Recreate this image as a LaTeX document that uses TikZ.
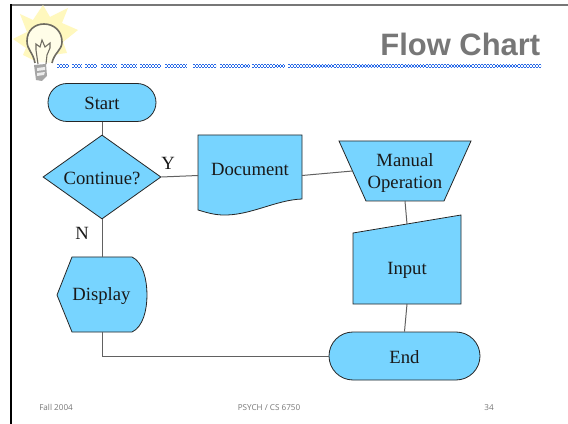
\documentclass[tikz,border=0pt]{standalone}
\usepackage{fontspec}
\setmainfont{Liberation Serif}
\newfontfamily\titlefont{Liberation Sans}
\newfontfamily\footfont{Open Sans}
\usetikzlibrary{shapes.geometric,shapes.misc}
\definecolor{boxblue}{HTML}{77D4FF}
\definecolor{slidegray}{HTML}{777777}
\definecolor{chain}{HTML}{2A6BE8}
\definecolor{burst}{HTML}{FFF8BE}
\definecolor{glass}{HTML}{FFFDE8}
\definecolor{bulbline}{HTML}{6F6C62}
\tikzset{
  x=0.75pt,y=-0.75pt,
  flowshape/.style={draw=black!85,line width=0.6pt,fill=boxblue,line join=miter},
  terminal/.style={flowshape,rounded rectangle,inner sep=0pt},
  decision/.style={flowshape,diamond,inner sep=0pt,aspect=1.405},
  label/.style={inner sep=0pt,font=\fontsize{14}{17}\selectfont,align=center,text=black!90},
  link/.style={draw=black!62,line width=0.75pt},
  footer/.style={inner sep=0pt,text=slidegray,font=\footfont\fontsize{6.1}{7}\selectfont},
  chainrow/.style={draw=chain,line width=1.15pt,dash pattern=on 1.15pt off 1.15pt},
}
\begin{document}
\begin{tikzpicture}
\useasboundingbox (0,0) rectangle (568,424);
\fill[white] (0,0) rectangle (568,424);
% slide frame
\draw[slidegray,line width=1.1pt] (11,5) -- (568,5);
\draw[black,line width=0.9pt] (11,4.5) -- (11,424);
% chain rule
\foreach \a/\b in {57/68,72/82,85/97,101/117,121/137,140/160,165/187,193/216,220/250,252/285,288/541}{
  \draw[chainrow] (\a,64.6) -- (\b,64.6);
  \draw[chainrow,dash phase=1.15pt] (\a,66.1) -- (\b,66.1);
  \draw[chainrow] (\a,67.6) -- (\b,67.6);
}
% light bulb
\fill[burst] (43,5) -- (50,17) -- (68,8) -- (62,23) -- (78,30) -- (63,42) -- (67,53) -- (52,55) -- (33,60) -- (23,55) -- (26,48) -- (13,39) -- (27,32) -- (20,14) -- (33,20) -- cycle;
\fill[glass] (35,62) .. controls (33,52) and (27,50) .. (27,41) .. controls (27,30) and (35,24) .. (44,24) .. controls (54,24) and (62,31) .. (62,42) .. controls (62,50) and (54,53) .. (52,63) -- cycle;
\draw[bulbline,line width=1.2pt] (35,63) .. controls (33,52) and (27,50) .. (27,41) .. controls (27,30) and (35,24) .. (44,24) .. controls (54,24) and (62,31) .. (62,42) .. controls (62,50) and (54,53) .. (52,63);
\draw[bulbline,line width=0.8pt] (38,64) -- (36,50) -- (36,44) -- (40,47) -- (42,40) -- (45,47) -- (50,43) -- (50,48) -- (47,55) -- (46,64);
\fill[gray!70] (34,65) -- (46,64) -- (47,76) -- (42,81) -- (36,80) -- cycle;
\fill[white!85!gray] (37,68) -- (45,67) -- (45,70) -- (37,71) -- cycle (37,73) -- (45,72) -- (44,75) -- (37,76) -- cycle;
% title and footer
\node[anchor=east,inner sep=0pt,text=slidegray,font=\titlefont\bfseries\fontsize{23.2}{26}\selectfont] (title) at (540.5,44) {Flow Chart};
\node[footer,anchor=base west] (footl) at (39,410.5) {Fall 2004};
\node[footer,anchor=base] (footc) at (269,410.5) {PSYCH / CS 6750};
\node[footer,anchor=base east] (footr) at (494,410.5) {34};
% flow shapes
\node[terminal,minimum width=81pt,minimum height=28.5pt] (start) at (102,102.5) {};
\node[label] (startt) at (102,103.5) {Start};
\node[decision,minimum width=88.5pt,minimum height=63pt] (cont) at (102,177) {};
\node[label] (contt) at (102,178) {Continue?};
\draw[flowshape] (198,135) -- (302,135) -- (302,199) .. controls (275,200) and (250,216) .. (222,215) .. controls (212,214.5) and (205,212) .. (198,210) -- cycle;
\coordinate (docW) at (198,175.5);
\coordinate (docE) at (302,175.5);
\node[label] (doc) at (250,169.5) {Document};
\draw[flowshape] (339,141) -- (471,141) -- (444,201) -- (366,201) -- cycle;
\coordinate (manW) at (352.5,171);
\coordinate (manS) at (405,201);
\node[label] (man) at (405,173) {Manual\\Operation};
\draw[flowshape] (353,233) -- (461,215) -- (461,304) -- (353,304) -- cycle;
\coordinate (inN) at (407,224);
\coordinate (inS) at (407,304);
\node[label] (inp) at (407,270.5) {Input};
\draw[flowshape] (57,295) -- (72,257) -- (132,257) .. controls (143,262) and (147,280) .. (147,295) .. controls (147,310) and (143,327) .. (132,332) -- (72,332) -- cycle;
\coordinate (dispN) at (102,257);
\coordinate (dispS) at (102,332);
\node[label] (disp) at (101.5,296.5) {Display};
\node[terminal,minimum width=113.25pt,minimum height=36pt] (end) at (404.5,356) {};
\node[label] (endt) at (404.5,357.5) {End};
% connectors
\draw[link] (start.south) -- (cont.north);
\draw[link] (cont.east) -- (docW);
\draw[link] (docE) -- (manW);
\draw[link] (manS) -- (inN);
\draw[link] (inS) -- (end.north);
\draw[link] (cont.south) -- (dispN);
\draw[link] (dispS) |- (end.west);
% branch labels
\node[label] (yes) at (168,163.5) {Y};
\node[label] (no) at (82,233) {N};
\end{tikzpicture}
\end{document}
